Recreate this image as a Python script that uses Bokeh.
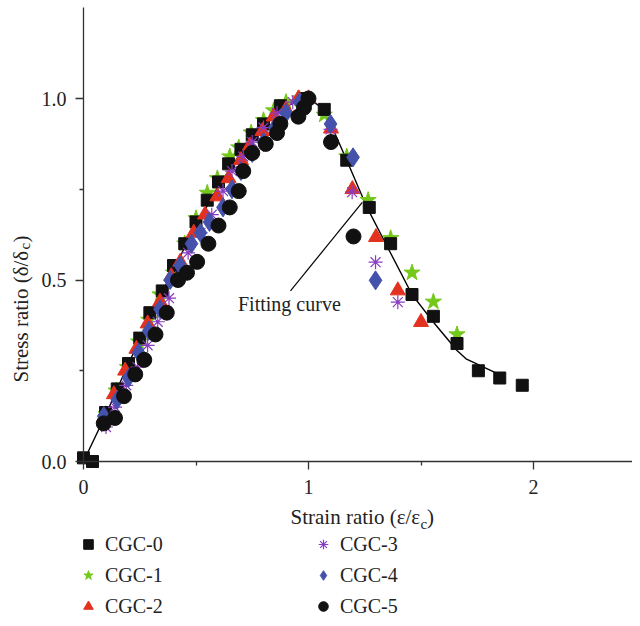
import math
from bokeh.plotting import figure
from bokeh.models import (Legend, LegendItem, Label, FixedTicker, NumeralTickFormatter, Range1d, LinearAxis)
from bokeh.embed import file_html
from bokeh.resources import INLINE

# ---- data ----
x0 = [0, 0.04, 0.098, 0.15, 0.20, 0.25, 0.295, 0.35, 0.40, 0.45, 0.50, 0.55, 0.60, 0.645, 0.70, 0.75,
      0.80, 0.875, 0.99, 1.07, 1.17, 1.27, 1.365, 1.46, 1.555, 1.66, 1.755, 1.85, 1.95]
y0 = [0.01, 0, 0.135, 0.20, 0.27, 0.34, 0.41, 0.47, 0.54, 0.60, 0.66, 0.72, 0.77, 0.82, 0.86, 0.90,
      0.93, 0.98, 1.0, 0.97, 0.83, 0.70, 0.60, 0.46, 0.40, 0.325, 0.25, 0.23, 0.21]

x1 = [0.10, 0.145, 0.195, 0.245, 0.29, 0.34, 0.40, 0.45, 0.50, 0.55, 0.595, 0.65, 0.69, 0.745, 0.80,
      0.845, 0.90, 0.96, 1.07, 1.17, 1.265, 1.365, 1.46, 1.555, 1.66]
y1 = [0.13, 0.195, 0.26, 0.33, 0.39, 0.46, 0.52, 0.60, 0.67, 0.74, 0.78, 0.84, 0.865, 0.906, 0.94,
      0.967, 0.99, 1.0, 0.955, 0.84, 0.72, 0.615, 0.52, 0.44, 0.35]

x2 = [0.09, 0.135, 0.185, 0.235, 0.285, 0.34, 0.39, 0.43, 0.49, 0.54, 0.595, 0.645, 0.70, 0.74, 0.795,
      0.845, 0.90, 0.955, 1.0, 1.10, 1.195, 1.30, 1.397, 1.50]
y2 = [0.12, 0.185, 0.25, 0.31, 0.38, 0.44, 0.51, 0.55, 0.63, 0.68, 0.73, 0.78, 0.83, 0.87, 0.91,
      0.95, 0.97, 1.0, 1.0, 0.917, 0.75, 0.618, 0.471, 0.384]

x3 = [0.10, 0.14, 0.19, 0.24, 0.285, 0.33, 0.38, 0.43, 0.465, 0.52, 0.57, 0.62, 0.66, 0.71, 0.75,
      0.80, 0.86, 0.93, 1.0, 1.098, 1.194, 1.298, 1.397]
y3 = [0.095, 0.15, 0.21, 0.26, 0.32, 0.385, 0.45, 0.51, 0.575, 0.63, 0.68, 0.745, 0.80, 0.84, 0.88,
      0.92, 0.96, 0.99, 1.0, 0.915, 0.742, 0.549, 0.439]

x4 = [0.09, 0.15, 0.20, 0.245, 0.29, 0.34, 0.385, 0.43, 0.48, 0.52, 0.56, 0.62, 0.66, 0.70, 0.75,
      0.80, 0.85, 0.90, 0.96, 1.098, 1.198, 1.298]
y4 = [0.125, 0.17, 0.23, 0.30, 0.36, 0.42, 0.50, 0.54, 0.60, 0.63, 0.66, 0.70, 0.75, 0.80, 0.85,
      0.88, 0.92, 0.96, 0.99, 0.93, 0.838, 0.499]

x5 = [0.09, 0.14, 0.18, 0.23, 0.27, 0.32, 0.37, 0.42, 0.46, 0.505, 0.555, 0.60, 0.65, 0.69, 0.71,
      0.75, 0.81, 0.86, 0.875, 0.955, 0.98, 1.0, 1.10, 1.20]
y5 = [0.105, 0.12, 0.18, 0.24, 0.28, 0.35, 0.41, 0.50, 0.52, 0.55, 0.60, 0.65, 0.70, 0.745, 0.80,
      0.85, 0.875, 0.905, 0.93, 0.95, 0.975, 1.0, 0.88, 0.62]

fit_x = [0, 0.1, 0.2, 0.3, 0.4, 0.5, 0.6, 0.7, 0.8, 0.9, 1.0, 1.07, 1.17, 1.26, 1.36, 1.46, 1.56, 1.66, 1.70, 1.84]
fit_y = [0, 0.13, 0.27, 0.40, 0.53, 0.65, 0.76, 0.85, 0.93, 0.98, 1.0, 0.97, 0.83, 0.70, 0.58, 0.46, 0.38, 0.306, 0.283, 0.242]

series_names = ["CGC-0", "CGC-1", "CGC-2", "CGC-3", "CGC-4", "CGC-5"]
x_ticks = [0, 1, 2]
x_minor = [0.5, 1.5]
y_ticks = [0.0, 0.5, 1.0]
y_minor = [0.25, 0.75]
x_axis_bounds = (0, 2.44)
y_axis_bounds = (0, 1.25)

# annotation "Fitting curve"
ann_text_pos = (0.915, 0.435)
ann_line = ([0.92, 1.239], [0.47, 0.714])

FONT = "Liberation Serif"
TXT = "#222222"

p = figure(width=632, height=618, output_backend="svg", toolbar_location=None,
           x_range=Range1d(-0.3689, 2.44), y_range=Range1d(-0.4325, 1.27),
           x_axis_location=None, y_axis_location=None,
           min_border_left=0, min_border_right=0, min_border_top=0, min_border_bottom=0)
p.outline_line_color = None
p.xgrid.visible = False
p.ygrid.visible = False
p.background_fill_color = "white"
p.border_fill_color = "white"

xaxis = LinearAxis(fixed_location=0, bounds=x_axis_bounds,
                   ticker=FixedTicker(ticks=x_ticks, minor_ticks=x_minor),
                   formatter=NumeralTickFormatter(format="0"))
yaxis = LinearAxis(fixed_location=0, bounds=y_axis_bounds,
                   ticker=FixedTicker(ticks=y_ticks, minor_ticks=y_minor),
                   formatter=NumeralTickFormatter(format="0.0"))
for ax in (xaxis, yaxis):
    ax.axis_line_color = "#333333"
    ax.axis_line_width = 1.3
    ax.major_tick_line_color = "#333333"
    ax.minor_tick_line_color = "#333333"
    ax.major_tick_line_width = 1.3
    ax.minor_tick_line_width = 1.3
    ax.major_tick_in = 0
    ax.major_tick_out = 8
    ax.minor_tick_in = 0
    ax.minor_tick_out = 4
    ax.major_label_text_font = FONT
    ax.major_label_text_font_size = "20px"
    ax.major_label_text_color = TXT
xaxis.major_label_standoff = 10
yaxis.major_label_standoff = 9
p.add_layout(xaxis, "below")
p.add_layout(yaxis, "left")

# fitting curve
p.line(fit_x, fit_y, line_color="black", line_width=1.4)

# markers
r1 = p.scatter(x1, y1, marker="star", size=17, fill_color="#74c81a", line_color="#74c81a")
r0 = p.scatter(x0, y0, marker="square", size=12, fill_color="#111111", line_color="#111111")
r2 = p.scatter(x2, y2, marker="triangle", size=15, fill_color="#e2321f", line_color="#e2321f")
r3 = p.scatter(x3, y3, marker="asterisk", size=14, fill_color=None, line_color="#8a3cc0", line_width=1.2)
r4 = p.scatter(x4, y4, marker="diamond", size=19, fill_color="#4552ab", line_color="#4552ab")
r5 = p.scatter(x5, y5, marker="circle", size=15, fill_color="#111111", line_color="#111111")

# annotation
p.line(ann_line[0], ann_line[1], line_color="black", line_width=1.2)
p.add_layout(Label(x=ann_text_pos[0], y=ann_text_pos[1], text="Fitting curve", text_font=FONT,
                   text_font_size="20px", text_align="center", text_baseline="middle", text_color=TXT))

# axis titles (with subscripts)
p.add_layout(Label(x=0.92, y=-0.154, text="Strain ratio (ε/ε", text_font=FONT, text_font_size="21px",
                   text_align="left", text_baseline="middle", text_color=TXT))
p.add_layout(Label(x=1.498, y=-0.172, text="c", text_font=FONT, text_font_size="15px",
                   text_align="left", text_baseline="middle", text_color=TXT))
p.add_layout(Label(x=1.527, y=-0.154, text=")", text_font=FONT, text_font_size="21px",
                   text_align="left", text_baseline="middle", text_color=TXT))

p.add_layout(Label(x=-0.28, y=0.2176, text="Stress ratio (δ/δ", text_font=FONT, text_font_size="21px",
                   angle=math.pi / 2, text_align="left", text_baseline="middle", text_color=TXT))
p.add_layout(Label(x=-0.258, y=0.584, text="c", text_font=FONT, text_font_size="15px",
                   angle=math.pi / 2, text_align="left", text_baseline="middle", text_color=TXT))
p.add_layout(Label(x=-0.28, y=0.603, text=")", text_font=FONT, text_font_size="21px",
                   angle=math.pi / 2, text_align="left", text_baseline="middle", text_color=TXT))

# legend
renderers = [r0, r1, r2, r3, r4, r5]
items = [LegendItem(label=n, renderers=[r]) for n, r in zip(series_names, renderers)]
legend = Legend(items=items, location=(76, 0), orientation="vertical", nrows=3,
                label_text_font=FONT, label_text_font_size="20px", label_text_color=TXT,
                glyph_width=24, glyph_height=24, label_height=20, label_standoff=5,
                label_width=199, spacing=7, padding=0, margin=0,
                background_fill_alpha=0, border_line_color=None)
p.add_layout(legend, "center")

open("out.html", "w").write(file_html(p, INLINE))
